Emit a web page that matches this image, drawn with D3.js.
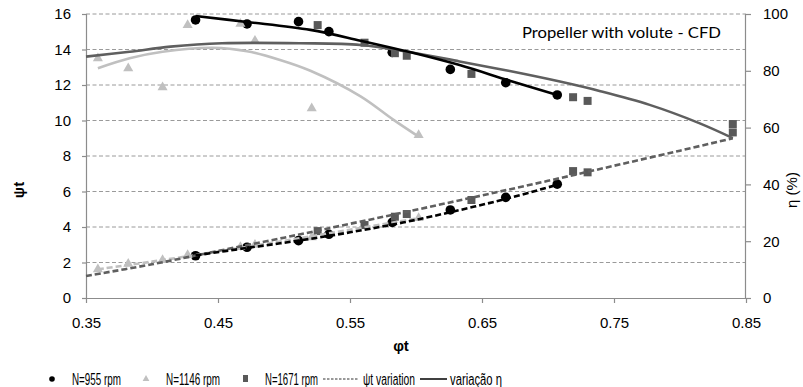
<!DOCTYPE html>
<html><head><meta charset="utf-8">
<script src="https://cdn.jsdelivr.net/npm/d3@7"></script>
<style>body{margin:0;background:#fff}</style>
</head><body><svg id="c" width="803" height="387"></svg>
<script>
// ---- tick labels ----
const xTicks = [0.35, 0.45, 0.55, 0.65, 0.75, 0.85];
const yLeftTicks = [0, 2, 4, 6, 8, 10, 12, 14, 16];
const yRightTicks = [0, 20, 40, 60, 80, 100];

// ---- N=955 rpm ----
const phi955 = [0.433, 0.472, 0.511, 0.534, 0.582, 0.626, 0.668, 0.707];
const psi955 = [2.38, 2.86, 3.23, 3.59, 4.26, 4.96, 5.67, 6.41];
const eta955 = [97.9, 96.5, 97.3, 93.8, 86.5, 80.5, 75.8, 71.5];

// ---- N=1146 rpm ----
const phi1146 = [0.359, 0.382, 0.408, 0.427, 0.467, 0.478, 0.521, 0.602];
const psi1146 = [1.62, 1.92, 2.14, 2.42, 2.87, 2.99, 3.42, 4.5];
const eta1146 = [84.4, 80.9, 74.2, 96.1, 96.5, 90.6, 66.8, 57.4];

// ---- N=1671 rpm ----
const phi1671 = [0.5255, 0.561, 0.584, 0.593, 0.642, 0.719, 0.730, 0.840];
const psi1671 = [3.77, 4.11, 4.58, 4.73, 5.52, 7.15, 7.08, 9.8];
const eta1671 = [96.1, 89.9, 86.2, 85.3, 78.9, 70.7, 69.4, 58.3];

// ---- trend curves ----
const etaFit955X = [0.433, 0.472, 0.52, 0.558, 0.596, 0.633, 0.671, 0.707];
const etaFit955Y = [99.3, 97.2, 94.4, 90.6, 86.5, 82.0, 76.5, 71.5];
const etaFitAllX = [0.35, 0.383, 0.414, 0.453, 0.512, 0.558, 0.596, 0.633, 0.671, 0.709, 0.739, 0.777, 0.815, 0.84];
const etaFitAllY = [85.0, 86.7, 88.5, 89.7, 89.7, 89.1, 86.5, 83.3, 79.9, 76.2, 72.9, 68.0, 61.5, 56.3];
const etaFit1146X = [0.359, 0.383, 0.408, 0.446, 0.472, 0.497, 0.52, 0.558, 0.583, 0.602];
const etaFit1146Y = [80.9, 84.4, 86.7, 88.1, 86.9, 83.8, 80.0, 71.0, 62.7, 56.8];
const psiFitAllX = [0.35, 0.40, 0.45, 0.50, 0.55, 0.60, 0.65, 0.70, 0.75, 0.80, 0.84];
const psiFitAllY = [1.24, 1.9, 2.65, 3.4, 4.18, 4.97, 5.78, 6.6, 7.45, 8.3, 9.0];
const psiFit1146X = [0.359, 0.40, 0.45, 0.50, 0.55, 0.602];
const psiFit1146Y = [1.62, 2.05, 2.62, 3.22, 3.85, 4.5];
const psiFit955X = [0.433, 0.47, 0.51, 0.55, 0.59, 0.63, 0.67, 0.707];
const psiFit955Y = [2.40, 2.8, 3.22, 3.70, 4.25, 4.9, 5.62, 6.38];

// ---- legend ----
const legendLabels = ['N=955 rpm', 'N=1146 rpm', 'N=1671 rpm', 'ψt variation', 'variação η'];

const svg = d3.select('#c');
const x = d3.scaleLinear().domain([0.35, 0.85]).range([86, 746]);
const yL = d3.scaleLinear().domain([0, 16]).range([298, 14]);
const yR = d3.scaleLinear().domain([0, 100]).range([298, 14]);
const AX = '#8c8c8c';
const tickFont = '"Liberation Sans", Arimo, Arial, sans-serif';

// gridlines
svg.append('g').selectAll('line').data(yLeftTicks.filter(d => d > 0)).join('line')
  .attr('x1', 86).attr('x2', 746).attr('y1', d => yL(d)).attr('y2', d => yL(d))
  .attr('stroke', '#9a9a9a').attr('stroke-width', 1).attr('stroke-dasharray', '4,2.5');

// axes
const gx = svg.append('g').attr('transform', 'translate(0,298)')
  .call(d3.axisBottom(x).tickValues(xTicks).tickFormat(d3.format('.2f')).tickSize(5).tickPadding(14));
const gl = svg.append('g').attr('transform', 'translate(86,0)')
  .call(d3.axisLeft(yL).tickValues(yLeftTicks).tickFormat(d3.format('d')).tickSize(4).tickPadding(11));
const gr = svg.append('g').attr('transform', 'translate(746,0)')
  .call(d3.axisRight(yR).tickValues(yRightTicks).tickFormat(d3.format('d')).tickSize(5).tickPadding(12));
[gx, gl, gr].forEach(g => {
  g.select('.domain').attr('stroke', AX).attr('stroke-width', 1.2);
  g.selectAll('.tick line').attr('stroke', AX).attr('stroke-width', 1.2);
  g.selectAll('.tick text').attr('fill', '#000').style('font-family', tickFont).style('font-size', '15px');
});
gl.select('.domain').attr('d', 'M0.5,14V298');
gr.select('.domain').attr('d', 'M-0.5,14V298');
gx.select('.domain').attr('d', 'M86,0.5H746');

// markers
function zip(a, b) { return a.map((v, i) => [v, b[i]]); }
const tri = d3.symbol().type(d3.symbolTriangle).size(44);
const sq = d3.symbol().type(d3.symbolSquare).size(64);
const mk = svg.append('g');
mk.selectAll('.c1').data(zip(phi955, eta955).map(p => [x(p[0]), yR(p[1])])
    .concat(zip(phi955, psi955).map(p => [x(p[0]), yL(p[1])])))
  .join('circle').attr('cx', d => d[0]).attr('cy', d => d[1]).attr('r', 4.8).attr('fill', '#000');
mk.selectAll('.t1').data(zip(phi1146, eta1146).map(p => [x(p[0]), yR(p[1])])
    .concat(zip(phi1146, psi1146).map(p => [x(p[0]), yL(p[1])])))
  .join('path').attr('d', tri).attr('transform', d => `translate(${d[0]},${d[1]})`).attr('fill', '#c0c0c0');
mk.selectAll('.s1').data(zip(phi1671, eta1671).map(p => [x(p[0]), yR(p[1])])
    .concat(zip(phi1671, psi1671).map(p => [x(p[0]), yL(p[1])])))
  .join('path').attr('d', sq).attr('transform', d => `translate(${d[0]},${d[1]})`).attr('fill', '#595959');

// curves
const lineR = d3.line().x(d => x(d[0])).y(d => yR(d[1])).curve(d3.curveCatmullRom.alpha(0.5));
const lineL = d3.line().x(d => x(d[0])).y(d => yL(d[1])).curve(d3.curveCatmullRom.alpha(0.5));
const lg = svg.append('g').attr('fill', 'none').attr('stroke-width', 2.6);
lg.append('path').attr('d', lineR(zip(etaFit1146X, etaFit1146Y))).attr('stroke', '#c0c0c0');
lg.append('path').attr('d', lineR(zip(etaFitAllX, etaFitAllY))).attr('stroke', '#5f5f5f');
lg.append('path').attr('d', lineR(zip(etaFit955X, etaFit955Y))).attr('stroke', '#000');
lg.append('path').attr('d', lineL(zip(psiFit1146X, psiFit1146Y))).attr('stroke', '#c0c0c0').attr('stroke-dasharray', '6,3');
lg.append('path').attr('d', lineL(zip(psiFitAllX, psiFitAllY))).attr('stroke', '#5f5f5f').attr('stroke-dasharray', '6,3');
lg.append('path').attr('d', lineL(zip(psiFit955X, psiFit955Y))).attr('stroke', '#000').attr('stroke-dasharray', '6,3');

// titles
svg.append('text').attr('x', 522).attr('y', 38).text('Propeller with volute - CFD')
  .attr('textLength', 199).attr('lengthAdjust', 'spacingAndGlyphs')
  .style('font-family', 'Lato, "Open Sans", sans-serif').style('font-size', '16px').attr('fill', '#000');
svg.append('text').attr('transform', 'translate(24,190) rotate(-90)').attr('text-anchor', 'middle')
  .text('ψt').style('font-family', tickFont).style('font-size', '15px').style('font-weight', 'bold');
svg.append('text').attr('x', 401).attr('y', 351).attr('text-anchor', 'middle')
  .text('φt').style('font-family', tickFont).style('font-size', '15px').style('font-weight', 'bold');
svg.append('text').attr('transform', 'translate(797,190) rotate(-90)').attr('text-anchor', 'middle')
  .text('η (%)').style('font-family', tickFont).style('font-size', '15px');

// legend
const ly = 379;
const leg = svg.append('g');
leg.append('circle').attr('cx', 52).attr('cy', ly).attr('r', 2.8).attr('fill', '#000');
leg.append('path').attr('d', d3.symbol().type(d3.symbolTriangle).size(20)).attr('transform', `translate(146,${ly})`).attr('fill', '#c0c0c0');
leg.append('rect').attr('x', 243).attr('y', ly - 4).attr('width', 5).attr('height', 7).attr('fill', '#595959');
leg.append('line').attr('x1', 323).attr('x2', 358).attr('y1', ly).attr('y2', ly).attr('stroke', '#333').attr('stroke-width', 1).attr('stroke-dasharray', '2.5,1.5');
leg.append('line').attr('x1', 420).attr('x2', 447).attr('y1', ly).attr('y2', ly).attr('stroke', '#000').attr('stroke-width', 1.5);
const legX = [72, 166, 265, 363, 450];
const legW = [49, 54, 53, 52, 52];
leg.selectAll('text').data(legendLabels).join('text')
  .attr('x', (d, i) => legX[i]).attr('y', ly + 5.5).text(d => d)
  .attr('textLength', (d, i) => legW[i]).attr('lengthAdjust', 'spacingAndGlyphs')
  .style('font-family', tickFont).style('font-size', '16px').attr('fill', '#000');
</script></body></html>
